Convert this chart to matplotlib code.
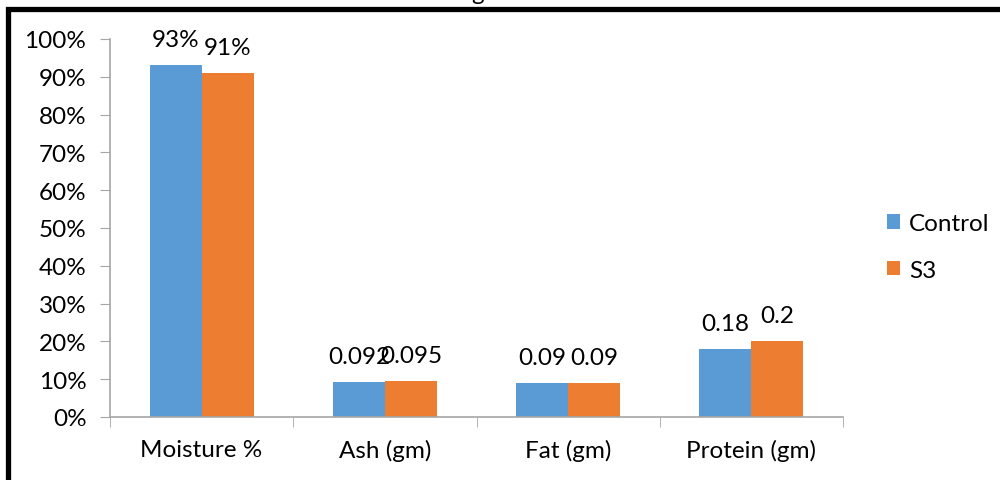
import numpy as np
import matplotlib.pyplot as plt
from matplotlib.patches import Rectangle
from matplotlib.ticker import PercentFormatter

plt.rcParams['font.family'] = ['Lato', 'DejaVu Sans']

categories = ['Moisture %', 'Ash (gm)', 'Fat (gm)', 'Protein (gm)']
control = [0.93, 0.092, 0.09, 0.18]
s3 = [0.91, 0.095, 0.09, 0.20]
control_labels = ['93%', '0.092', '0.09', '0.18']
s3_labels = ['91%', '0.095', '0.09', '0.2']

blue = '#5b9bd5'
orange = '#ed7d31'
grey = '#a6a6a6'
fs = 17.5

fig = plt.figure(figsize=(10, 4.81), dpi=100)
ax = fig.add_axes([0.11, 0.131, 0.733, 0.786])

x = np.arange(len(categories))
w = 0.284
b1 = ax.bar(x - w / 2, control, w, color=blue, label='Control')
b2 = ax.bar(x + w / 2, s3, w, color=orange, label='S3')

for bars, labs in ((b1, control_labels), (b2, s3_labels)):
    for r, t in zip(bars, labs):
        ax.text(r.get_x() + r.get_width() / 2, r.get_height() + 0.04, t,
                ha='center', va='bottom', fontsize=fs)

ax.set_xlim(-0.5, len(categories) - 0.5)
ax.set_ylim(0, 1.0)
ax.set_yticks(np.arange(0, 1.01, 0.1))
ax.yaxis.set_major_formatter(PercentFormatter(1.0, decimals=0))
ax.set_xticks(x)
ax.set_xticklabels(categories)
ax.set_xticks(np.arange(-0.5, len(categories), 1.0), minor=True)
ax.tick_params(axis='x', which='major', length=0, labelsize=fs, pad=16)
ax.tick_params(axis='x', which='minor', length=7, color=grey, direction='out')
ax.tick_params(axis='y', length=7, color=grey, labelsize=fs, pad=10)

for s in ('top', 'right'):
    ax.spines[s].set_visible(False)
for s in ('left', 'bottom'):
    ax.spines[s].set_color(grey)
    ax.spines[s].set_linewidth(1.2)

ax.legend(loc='center left', bbox_to_anchor=(1.03, 0.45), frameon=False,
          fontsize=fs, handlelength=0.55, handleheight=0.55, labelspacing=1.05,
          handletextpad=0.35)

# outer frame, cut off at right and bottom
fig.patches.append(Rectangle((0.008, -0.2), 1.2, 1.179, transform=fig.transFigure,
                             fill=False, edgecolor='black', linewidth=3.8))
fig.text(0.478, 1.0, 'g', fontsize=fs, ha='center', va='baseline')

fig.savefig('out.png', dpi=100)
